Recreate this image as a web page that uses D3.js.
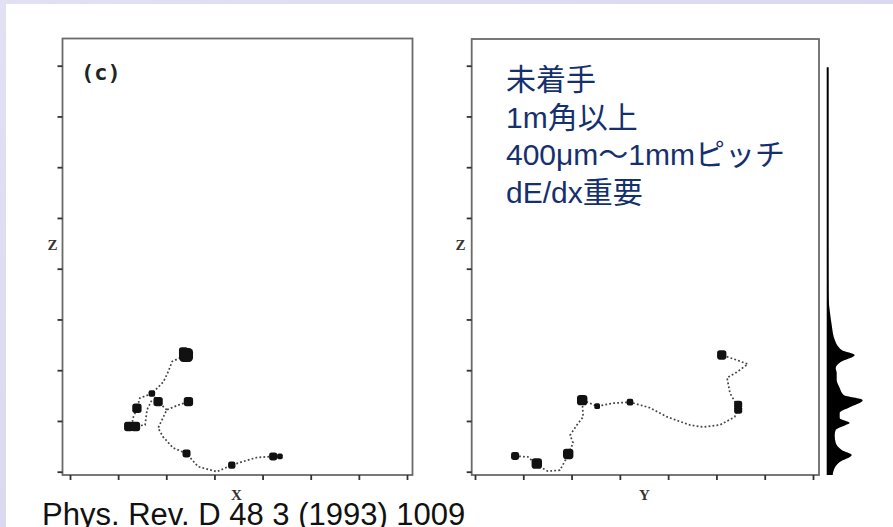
<!DOCTYPE html>
<html>
<head>
<meta charset="utf-8">
<script src="https://cdn.jsdelivr.net/npm/d3@7"></script>
<style>
body { margin: 0; background: #fff; }
</style>
</head>
<body>
<script>
// track vertices [x, z] and energy deposits [x, z, e], panel (c) X-Z view
var trackXZ = [
	[[4.22, 0.30], [3.88, 0.28], [3.59, 0.20], [3.36, 0.13], [3.05, 0.00], [2.66, 0.10], [2.42, 0.36],
	 [2.14, 0.47], [1.93, 0.69], [1.83, 0.86], [2.01, 1.22], [2.24, 1.31], [2.46, 1.38]],
	[[2.01, 1.22], [1.83, 1.38], [1.70, 1.54], [1.94, 1.77], [2.04, 1.97], [2.12, 2.17], [2.41, 2.30]],
	[[1.70, 1.54], [1.45, 1.45], [1.39, 1.25], [1.31, 1.06], [1.28, 0.89], [1.56, 0.92], [1.60, 1.22], [1.70, 1.41]]
];
var depositsXZ = [
	[2.41, 2.30, 9], [2.36, 2.36, 4], [1.83, 1.38, 4], [2.46, 1.38, 4], [1.39, 1.25, 4], [1.22, 0.89, 4], [1.36, 0.89, 4],
	[1.70, 1.54, 2], [2.42, 0.36, 3], [3.36, 0.13, 2.5], [4.22, 0.30, 3], [4.36, 0.30, 1.5]
];

// Y-Z view
var trackYZ = [
	[[0.83, 0.31], [1.10, 0.29], [1.28, 0.13], [1.51, 0.01], [1.76, 0.03], [1.93, 0.33], [2.03, 0.57],
	 [1.97, 0.72], [2.11, 0.92], [2.24, 1.08], [2.22, 1.41], [2.53, 1.29], [2.86, 1.35], [3.21, 1.37],
	 [3.62, 1.26], [3.98, 1.08], [4.45, 0.92], [4.72, 0.88], [5.07, 0.92], [5.38, 1.08], [5.45, 1.27],
	 [5.28, 1.55], [5.22, 1.85], [5.42, 1.96], [5.65, 2.12], [5.42, 2.20], [5.11, 2.30]]
];
var depositsYZ = [
	[0.83, 0.31, 3], [1.28, 0.16, 5], [1.93, 0.35, 5], [2.22, 1.41, 5], [3.21, 1.37, 2],
	[5.45, 1.22, 3], [5.45, 1.32, 3], [5.11, 2.30, 4], [2.53, 1.29, 1.5]
];

// energy deposit profile along z [z, counts]
var profileZ = [
	[-0.065, 5], [0.03, 6], [0.19, 12], [0.33, 24], [0.43, 14], [0.57, 8], [0.72, 7], [0.82, 8],
	[0.92, 18], [0.96, 22], [1.06, 12], [1.16, 12], [1.27, 22], [1.41, 35], [1.51, 16], [1.65, 12],
	[1.81, 9], [1.95, 9], [2.04, 8], [2.16, 13], [2.30, 27], [2.40, 14], [2.60, 7], [2.89, 4],
	[3.18, 2], [3.38, 1], [3.78, 0.5], [7.97, 0]
];

var xTicks = [0, 1, 2, 3, 4, 5, 6, 7];
var zTicks = [0, 1, 2, 3, 4, 5, 6, 7, 8];
var noteLines = ["未着手", "1m角以上", "400μm～1mmピッチ", "dE/dx重要"];
var citation = "Phys. Rev. D 48 3 (1993) 1009";

var width = 893,
    height = 527;

var svg = d3.select("body").append("svg")
    .attr("width", width)
    .attr("height", height);

// lavender slide border
var grad = svg.append("defs").append("linearGradient")
    .attr("id", "bg").attr("x1", 0).attr("y1", 0).attr("x2", 1).attr("y2", 1);
grad.append("stop").attr("offset", "0%").attr("stop-color", "#e2e0f3");
grad.append("stop").attr("offset", "100%").attr("stop-color", "#d4d2ee");
svg.append("rect").attr("width", width).attr("height", height).attr("fill", "url(#bg)");
svg.append("rect").attr("x", 6).attr("y", 4).attr("width", width - 6).attr("height", height - 4).attr("fill", "#fff");

var zScale = d3.scaleLinear().domain([0, 8]).range([471.7, 65.7]);
var eScale = d3.scaleSqrt().domain([0, 9]).range([0, 7]);

var panels = [
	{ frame: [62.5, 38.5, 412.5, 475], x: d3.scaleLinear().domain([0, 7]).range([70, 407]),
	  track: trackXZ, deposits: depositsXZ, xlab: "X", zlabX: 52.5 },
	{ frame: [471.7, 39, 819, 475], x: d3.scaleLinear().domain([0, 7]).range([475, 813]),
	  track: trackYZ, deposits: depositsYZ, xlab: "Y", zlabX: 460.5 }
];

var line = d3.line();

panels.forEach(function(p){
	var f = p.frame;
	var g = svg.append("g");

	g.append("rect")
	    .attr("x", f[0]).attr("y", f[1])
	    .attr("width", f[2] - f[0]).attr("height", f[3] - f[1])
	    .attr("fill", "none").attr("stroke", "#6a6a6a").attr("stroke-width", 1.8);

	var ax = g.append("g")
	    .attr("transform", "translate(" + f[0] + ",0)")
	    .call(d3.axisLeft(zScale).tickValues(zTicks).tickSize(5).tickFormat(""));
	var bx = g.append("g")
	    .attr("transform", "translate(0," + f[3] + ")")
	    .call(d3.axisBottom(p.x).tickValues(xTicks).tickSize(5).tickFormat(""));
	[ax, bx].forEach(function(a){
		a.select(".domain").remove();
		a.selectAll("line").attr("stroke", "#333").attr("stroke-width", 1.8);
	});

	// track, drawn as a dotted trail
	g.selectAll("path.trk")
	    .data(p.track).enter()
	    .append("path")
	    .attr("class", "trk")
	    .attr("d", function(d){ return line(d.map(function(v){ return [p.x(v[0]), zScale(v[1])]; })); })
	    .attr("fill", "none")
	    .attr("stroke", "#444")
	    .attr("stroke-width", 1.7)
	    .attr("stroke-dasharray", "1.8,2.2");

	g.selectAll("rect.dep")
	    .data(p.deposits).enter()
	    .append("rect")
	    .attr("class", "dep")
	    .attr("x", function(d){ return p.x(d[0]) - eScale(d[2]); })
	    .attr("y", function(d){ return zScale(d[1]) - eScale(d[2]); })
	    .attr("width", function(d){ return 2 * eScale(d[2]); })
	    .attr("height", function(d){ return 2 * eScale(d[2]); })
	    .attr("rx", function(d){ return eScale(d[2]) * 0.6; })
	    .attr("fill", "#111");

	g.append("text")
	    .attr("x", p.zlabX).attr("y", 250)
	    .attr("text-anchor", "middle")
	    .attr("font-family", "'Liberation Serif', serif").attr("font-weight", "bold")
	    .attr("font-size", 15).attr("fill", "#333")
	    .text("Z");
	g.append("text")
	    .attr("x", (f[0] + f[2]) / 2 - 1).attr("y", 500)
	    .attr("text-anchor", "middle")
	    .attr("font-family", "'Liberation Serif', serif").attr("font-weight", "bold")
	    .attr("font-size", 15).attr("fill", "#333")
	    .text(p.xlab);
});

svg.append("text")
    .attr("x", 81).attr("y", 80)
    .attr("font-family", "'DejaVu Sans Mono', monospace")
    .attr("font-size", 22).attr("font-weight", "bold")
    .attr("fill", "#222")
    .text("(c)");

// z profile beside the Y-Z view
var hx = d3.scaleLinear().domain([0, 35]).range([827.7, 862.7]);
svg.append("path")
    .datum(profileZ)
    .attr("d", d3.area()
        .curve(d3.curveMonotoneY)
        .y(function(d){ return zScale(d[0]); })
        .x0(hx(0))
        .x1(function(d){ return hx(d[1]); }))
    .attr("fill", "#000");
svg.append("line")
    .attr("x1", hx(0)).attr("x2", hx(0))
    .attr("y1", zScale(7.97)).attr("y2", zScale(-0.065))
    .attr("stroke", "#000").attr("stroke-width", 2);

svg.append("g").selectAll("text")
    .data(noteLines).enter()
    .append("text")
    .attr("x", 506)
    .attr("y", function(d, i){ return 90 + i * 37.5; })
    .attr("font-family", "'Liberation Sans', Arial, 'Noto Sans CJK JP', sans-serif")
    .attr("font-size", 30)
    .attr("fill", "#15306e")
    .text(function(d){ return d; });

svg.append("text")
    .attr("x", 42).attr("y", 525)
    .attr("font-family", "'Liberation Sans', Arial, sans-serif")
    .attr("font-size", 31)
    .attr("fill", "#111")
    .text(citation);
</script>
</body>
</html>
